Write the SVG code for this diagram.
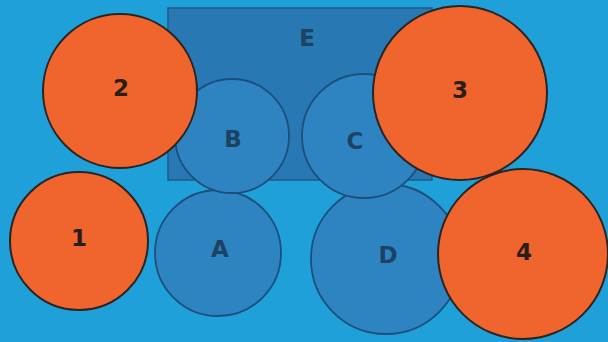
<svg xmlns="http://www.w3.org/2000/svg" width="608" height="342" viewBox="0 0 608 342">
<style>
.bg{fill:#20a0d9}
.rect{fill:#2878b3;stroke:#20598a;stroke-width:1.5}
.blue{fill:#2e84c1;stroke:#1c4f7c;stroke-width:1.8}
.orange{fill:#f0652e;stroke:#2a2522;stroke-width:2}
.lb{font-family:"DejaVu Sans",sans-serif;font-weight:bold;font-size:23px;text-anchor:middle;dominant-baseline:central;fill:#1e4262}
.lo{font-family:"DejaVu Sans",sans-serif;font-weight:bold;font-size:23px;text-anchor:middle;dominant-baseline:central;fill:#2a1e18}
</style>
<rect class="bg" x="0" y="0" width="608" height="342"/>
<g id="E"><rect class="rect" x="168" y="8" width="264" height="172"/><text class="lb" x="307" y="38">E</text></g>
<g id="A"><circle class="blue" cx="218" cy="253" r="63"/><text class="lb" x="220" y="249">A</text></g>
<g id="D"><circle class="blue" cx="386" cy="259" r="75"/><text class="lb" x="388" y="255">D</text></g>
<g id="B"><circle class="blue" cx="232" cy="136" r="57"/><text class="lb" x="233" y="139">B</text></g>
<g id="C"><circle class="blue" cx="364" cy="136" r="62"/><text class="lb" x="355" y="141">C</text></g>
<g id="n1"><circle class="orange" cx="79" cy="241" r="69"/><text class="lo" x="79" y="238">1</text></g>
<g id="n2"><circle class="orange" cx="120" cy="91" r="77"/><text class="lo" x="121" y="88">2</text></g>
<g id="n3"><circle class="orange" cx="460" cy="93" r="87"/><text class="lo" x="460" y="90">3</text></g>
<g id="n4"><circle class="orange" cx="523" cy="254" r="85"/><text class="lo" x="524" y="252">4</text></g>
<g id="connectors"></g>
</svg>
